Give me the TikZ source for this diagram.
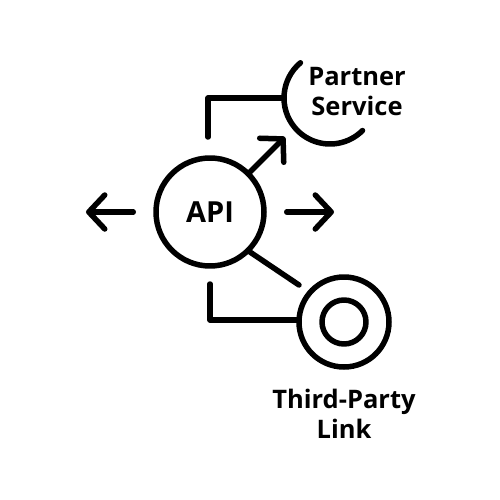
\documentclass[tikz,border=0pt]{standalone}
\usepackage{fontspec}
\setmainfont{Open Sans}
\usetikzlibrary{arrows.meta}
\begin{document}
\begin{tikzpicture}[x=1pt,y=-1pt,
  thick line/.style={line width=5.5pt, line cap=round, line join=round},
  barb/.style={-{Straight Barb[length=16pt,width=34pt,line cap=round,line join=round]}},
  label text/.style={font=\fontsize{25.5}{30}\selectfont\bfseries, align=center, inner sep=0pt}]
\useasboundingbox (0,0) rectangle (500,500);
% API circle
\node[draw, thick line, circle, minimum size=108pt, inner sep=0pt,
      font=\fontsize{29}{30}\selectfont\bfseries] (api) at (210,212) {API};
% side arrows
\coordinate (lend) at (86,212);
\coordinate (rend) at (334,212);
\coordinate (dend) at (285,137);
\draw[thick line, barb] (api.west) ++(-20,0) coordinate (lstart) -- (lend);
\draw[thick line, barb] (api.east) ++(20,0) coordinate (rstart) -- (rend);
\draw[thick line, barb] (api.45) -- (dend);
% partner service arc
\coordinate (pc) at (330,98);
\draw[thick line] (pc) ++(230:46) arc[start angle=230, end angle=45, radius=46];
\coordinate (pleft) at (284,98);
\coordinate (ptop) at (208,137);
\draw[thick line] (ptop) -- (208,98) -- (pleft);
\node[label text] (partner) at (357,92) {Partner\\Service};
% third party
\node[draw, thick line, circle, minimum size=90pt, inner sep=0pt] (tp) at (344,322) {};
\node[draw, thick line, circle, minimum size=44pt, inner sep=0pt] (tpin) at (344,322) {};
\coordinate (tline) at (299,285);
\draw[thick line] (api.-45) -- (tline);
\coordinate (bbot) at (210,284);
\draw[thick line] (bbot) -- (210,320) -- (tp.west |- 0,320);
\node[label text] (third) at (344,414) {Third-Party\\Link};
\end{tikzpicture}
\end{document}
